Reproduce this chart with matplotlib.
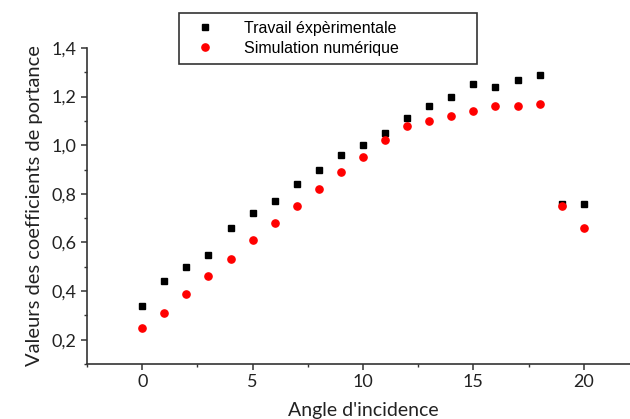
import matplotlib
matplotlib.use("Agg")
import matplotlib.pyplot as plt
from matplotlib.ticker import MultipleLocator, FuncFormatter

# angle d'incidence (degrés)
angles = list(range(0, 21))
experimental = [0.34, 0.44, 0.50, 0.55, 0.66, 0.72, 0.77, 0.84, 0.90, 0.96, 1.00,
                1.05, 1.11, 1.16, 1.20, 1.25, 1.24, 1.27, 1.29, 0.76, 0.76]
simulation = [0.25, 0.31, 0.39, 0.46, 0.53, 0.61, 0.68, 0.75, 0.82, 0.89, 0.95,
              1.02, 1.08, 1.10, 1.12, 1.14, 1.16, 1.16, 1.17, 0.75, 0.66]

label_exp = "Travail éxpèrimentale"
label_sim = "Simulation numérique"

plt.rcParams.update({
    "font.family": ["Lato", "DejaVu Sans"],
    "axes.spines.top": False,
    "axes.spines.right": False,
})

fig = plt.figure(figsize=(6.3, 4.19), dpi=100)
ax = fig.add_axes([87 / 630, 1 - 364 / 419, 552 / 630, 316 / 419])

ax.plot(angles, experimental, "s", color="black", markersize=5, label=label_exp)
ax.plot(angles, simulation, "o", color="#ff0000", markersize=5.2, label=label_sim)

ax.set_xlim(-2.5, 22.5)
ax.set_ylim(0.1, 1.4)
ax.xaxis.set_major_locator(MultipleLocator(5))
ax.xaxis.set_minor_locator(MultipleLocator(2.5))
ax.yaxis.set_major_locator(MultipleLocator(0.2))
ax.yaxis.set_minor_locator(MultipleLocator(0.1))
ax.yaxis.set_major_formatter(FuncFormatter(lambda v, p: f"{v:.1f}".replace(".", ",")))

for side in ("left", "bottom"):
    ax.spines[side].set_color("#333333")
    ax.spines[side].set_linewidth(1.2)
ax.tick_params(which="major", direction="out", length=4, width=1.1, colors="#333333",
               labelsize=13, labelcolor="#222222")
ax.tick_params(which="minor", direction="out", length=2.5, width=1.0, colors="#333333")

ax.set_xlabel("Angle d'incidence", fontsize=14, color="#222222", labelpad=8)
ax.set_ylabel("Valeurs des coefficients de portance", fontsize=14.5, color="#222222", labelpad=6)

leg = fig.legend(loc="upper left", bbox_to_anchor=(179 / 630, 1 - 13 / 419, 298 / 630, 0.0),
                 mode="expand", frameon=True, fancybox=False, framealpha=1,
                 edgecolor="#333333", prop={"family": "Liberation Sans", "size": 11.5},
                 handletextpad=1.4, borderpad=0.5, labelspacing=0.3, handlelength=2.2,
                 borderaxespad=0)
leg.get_frame().set_linewidth(1.2)

fig.savefig("out.png", dpi=100, facecolor="white")
